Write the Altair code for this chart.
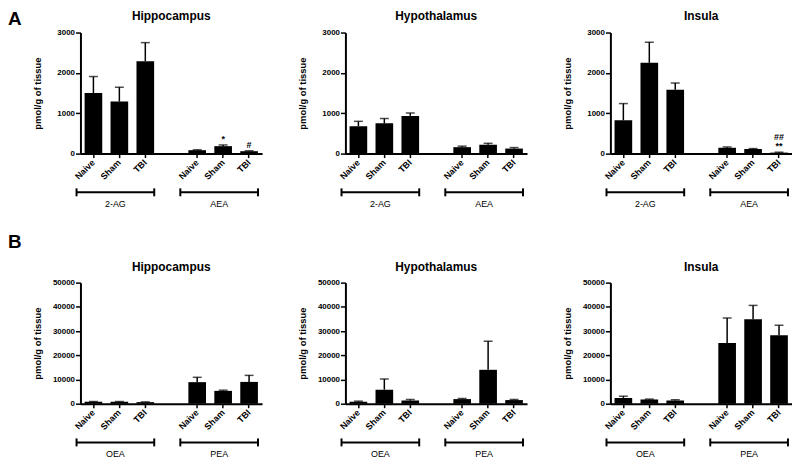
import altair as alt
import pandas as pd

FONT = "Liberation Sans"
W = 183
H = 122

conditions = ["Naive", "Sham", "TBI"]
groups_a = ["2-AG", "AEA"]
groups_b = ["OEA", "PEA"]
ticks_a = [0, 1000, 2000, 3000]
ticks_b = [0, 10000, 20000, 30000, 40000, 50000]

# Row A: 2-AG (Naive, Sham, TBI), AEA (Naive, Sham, TBI)
a_hippocampus_mean = [1500, 1290, 2290, 85, 185, 60]
a_hippocampus_upper = [1910, 1645, 2750, 95, 215, 70]
a_hippocampus_marks = ["", "", "", "", "*", "#"]
a_hippocampus_marks2 = ["", "", "", "", "", ""]

a_hypothalamus_mean = [680, 750, 935, 160, 220, 125]
a_hypothalamus_upper = [800, 870, 1005, 185, 255, 150]
a_hypothalamus_marks = ["", "", "", "", "", ""]
a_hypothalamus_marks2 = ["", "", "", "", "", ""]

a_insula_mean = [825, 2250, 1580, 145, 115, 25]
a_insula_upper = [1240, 2760, 1750, 165, 125, 35]
a_insula_marks = ["", "", "", "", "", "**"]
a_insula_marks2 = ["", "", "", "", "", "##"]

# Row B: OEA (Naive, Sham, TBI), PEA (Naive, Sham, TBI)
b_hippocampus_mean = [800, 800, 650, 8900, 5300, 9000]
b_hippocampus_upper = [900, 900, 750, 10900, 5600, 11700]
b_hypothalamus_mean = [800, 5800, 1300, 1900, 14000, 1500]
b_hypothalamus_upper = [1050, 10200, 1700, 2150, 25800, 1750]
b_insula_mean = [2400, 1750, 1350, 25100, 34900, 28300]
b_insula_upper = [3100, 1900, 1600, 35400, 40600, 32400]
no_marks = ["", "", "", "", "", ""]


def panel(region, groups, means, uppers, marks, marks2, ymax, yticks, letter=None,
          letter_y=-23, title_y=-17):
    slots = [f"{g}|{c}" for g in groups for c in conditions]
    domain = slots[:3] + ["gap"] + slots[3:]
    df = pd.DataFrame({"slot": slots, "mean": means, "upper": uppers,
                       "mark": marks, "mark2": marks2})
    xscale = alt.Scale(domain=domain, paddingInner=0.32, paddingOuter=0.16)
    yscale = alt.Scale(domain=[0, ymax], nice=False)
    xaxis = alt.Axis(values=slots, labelExpr="split(datum.value, '|')[1]",
                     labelAngle=-45, labelAlign="right", labelBaseline="middle",
                     labelPadding=3, labelFontSize=9, labelFontWeight="bold",
                     labelFont=FONT, labelColor="black", labelOverlap=False,
                     domainWidth=2, domainColor="black", tickColor="black",
                     tickWidth=1.5, tickSize=4, grid=False, title=None)
    yaxis = alt.Axis(values=yticks, tickCount=len(yticks), format="d",
                     title="pmol/g of tissue",
                     labelFontSize=8, labelFontWeight="bold", labelFont=FONT,
                     labelColor="black", labelPadding=1, labelOverlap=False,
                     domainWidth=2, domainColor="black", tickColor="black",
                     tickWidth=1.5, tickSize=5, grid=False,
                     titleFontSize=9.5, titleFontWeight="bold", titleFont=FONT,
                     titleColor="black", titleX=-43, titleY=H / 2,
                     titleAngle=-90, titleAlign="center", titleBaseline="middle")
    xs = alt.X("slot:N", scale=xscale, axis=xaxis, title=None)
    ym = alt.Y("mean:Q", scale=yscale, axis=yaxis, title="pmol/g of tissue")
    yu = alt.Y("upper:Q", scale=yscale, axis=yaxis, title="pmol/g of tissue")

    base = alt.Chart(df)
    bars = base.mark_bar(color="black").encode(x=xs, y=ym)
    err = base.mark_rule(color="black", strokeWidth=1.5).encode(x=xs, y=ym, y2="upper:Q")
    caps = base.mark_tick(color="black", size=9, thickness=1.5).encode(x=xs, y=yu)
    ann = base.mark_text(color="black", fontSize=9, fontWeight="bold", font=FONT,
                         baseline="bottom", dy=-1).encode(x=xs, y=yu, text="mark:N")
    ann2 = base.mark_text(color="black", fontSize=9, fontWeight="bold", font=FONT,
                          baseline="bottom", dy=-10).encode(x=xs, y=yu, text="mark2:N")

    bdf = pd.DataFrame({"first": [slots[0], slots[3]], "mid": [slots[1], slots[4]],
                        "last": [slots[2], slots[5]], "group": groups})
    bbase = alt.Chart(bdf)
    by = H + 39
    hline = bbase.mark_rule(color="black", strokeWidth=2, xOffset=-17, x2Offset=9).encode(
        x=alt.X("first:N", scale=xscale, axis=xaxis, title=None), x2="last:N", y=alt.value(by))
    lcap = bbase.mark_rule(color="black", strokeWidth=2, xOffset=-17).encode(
        x=alt.X("first:N", scale=xscale, axis=xaxis, title=None),
        y=alt.value(by - 4), y2=alt.value(by + 4))
    rcap = bbase.mark_rule(color="black", strokeWidth=2, xOffset=9).encode(
        x=alt.X("last:N", scale=xscale, axis=xaxis, title=None),
        y=alt.value(by - 4), y2=alt.value(by + 4))
    glabel = bbase.mark_text(color="black", fontSize=9, font=FONT, baseline="middle",
                             xOffset=-4).encode(
        x=alt.X("mid:N", scale=xscale, axis=xaxis, title=None),
        y=alt.value(H + 51), text="group:N")

    title = alt.Chart(pd.DataFrame({"t": [region]})).mark_text(
        fontSize=12, fontWeight="bold", font=FONT, color="black", baseline="middle",
        align="center").encode(text="t:N", x=alt.value(W / 2), y=alt.value(title_y))

    layers = [bars, err, caps, ann, ann2, hline, lcap, rcap, glabel, title]
    if letter:
        lt = alt.Chart(pd.DataFrame({"t": [letter]})).mark_text(
            fontSize=19, fontWeight="bold", font=FONT, color="black", baseline="top",
            align="left").encode(text="t:N", x=alt.value(-73), y=alt.value(letter_y))
        layers.append(lt)
    return alt.layer(*layers).properties(width=W, height=H)


panels = [
    panel("Hippocampus", groups_a, a_hippocampus_mean, a_hippocampus_upper,
          a_hippocampus_marks, a_hippocampus_marks2, 3000, ticks_a, letter="A", letter_y=-23),
    panel("Hypothalamus", groups_a, a_hypothalamus_mean, a_hypothalamus_upper,
          a_hypothalamus_marks, a_hypothalamus_marks2, 3000, ticks_a),
    panel("Insula", groups_a, a_insula_mean, a_insula_upper, a_insula_marks, a_insula_marks2,
          3000, ticks_a),
    panel("Hippocampus", groups_b, b_hippocampus_mean, b_hippocampus_upper, no_marks, no_marks,
          50000, ticks_b, letter="B", letter_y=-50, title_y=-16),
    panel("Hypothalamus", groups_b, b_hypothalamus_mean, b_hypothalamus_upper, no_marks, no_marks,
          50000, ticks_b, title_y=-16),
    panel("Insula", groups_b, b_insula_mean, b_insula_upper, no_marks, no_marks,
          50000, ticks_b, title_y=-16),
]

chart = alt.concat(*panels, columns=3, bounds="flush",
                   spacing={"row": 130, "column": 84}).properties(
    padding={"left": 0, "top": 0, "right": 0, "bottom": 0}
).configure(font=FONT).configure_view(stroke=None).configure_axis(labelOverlap=False)

chart.save("out.html", embed_options={"renderer": "svg", "actions": False})
